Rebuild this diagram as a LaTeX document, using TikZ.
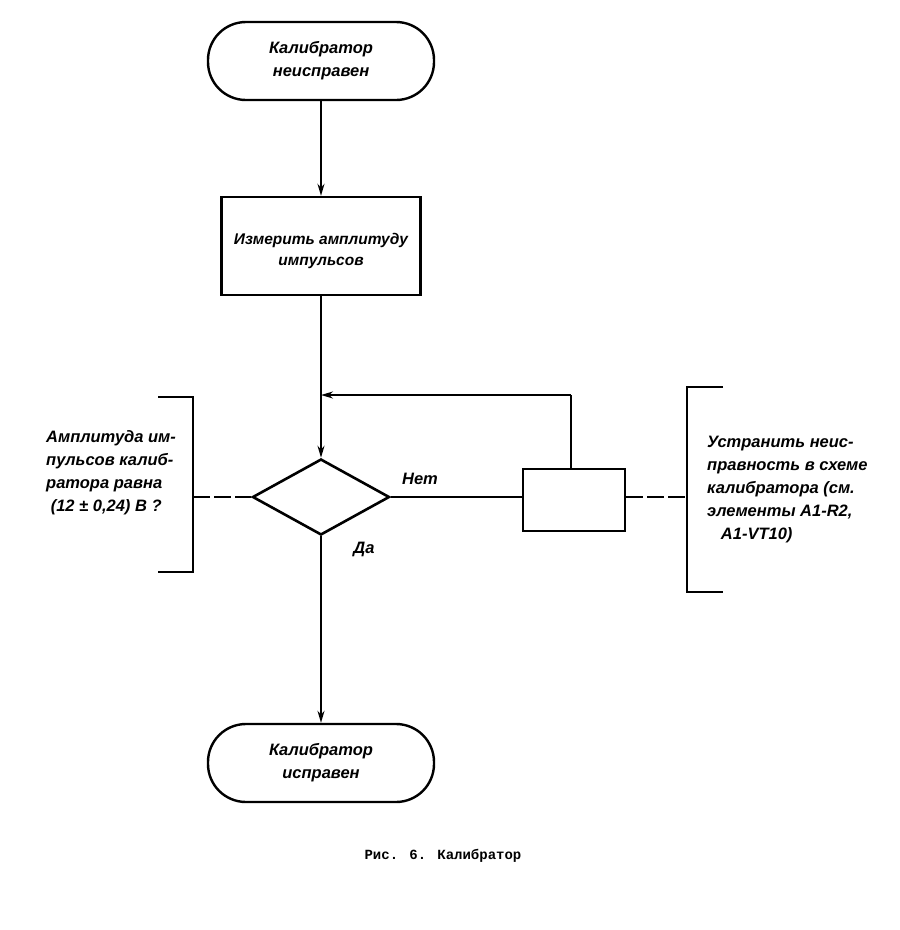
\documentclass[tikz,border=0pt]{standalone}
\usepackage{fontspec}
\setmainfont{Liberation Sans}
\newfontfamily\capfont{Liberation Mono}
\usetikzlibrary{arrows.meta,shapes.geometric}
\begin{document}
\begin{tikzpicture}[x=1pt,y=-1pt,
  hand/.style={font=\fontsize{16.5}{23}\selectfont\bfseries\itshape},
  term/.style={draw,line width=2.4pt,rounded corners=38pt,minimum width=226pt,minimum height=78pt,align=center,hand},
  proc/.style={draw,line width=2.4pt,minimum width=199pt,minimum height=98pt,align=center,hand,font=\fontsize{15.5}{21}\selectfont\bfseries\itshape},
  dec/.style={draw,line width=2.6pt,diamond,minimum width=137pt,minimum height=76pt,aspect=1.8,inner sep=0pt},
  small/.style={draw,line width=2.6pt,minimum width=102pt,minimum height=62pt},
  flow/.style={line width=1.8pt},
  arr/.style={flow,-{Stealth[length=12pt,width=7pt]}},
  note/.style={line width=1.8pt,dash pattern=on 17pt off 4pt},
  brk/.style={line width=2.4pt},
  lab/.style={hand,inner sep=0pt}
]
\useasboundingbox (0,0) rectangle (900,930);
\fill[white] (0,0) rectangle (900,930);

\node[term] (start) at (321,61) {Калибратор\\неисправен};
\node[proc] (meas) at (321,246) {};
\node[hand,font=\fontsize{15.5}{21}\selectfont\bfseries\itshape,align=center] (meastext) at (321,251) {Измерить амплитуду\\импульсов};
\node[dec] (d) at (321,497) {};
\node[small] (fix) at (574,500) {};
\node[term] (end) at (321,763) {Калибратор\\исправен};

\coordinate (join) at (321,395);
\coordinate (up) at (571,395);

\draw[arr] (start.south) -- (meas.north);
\draw[flow] (meas.south) -- (join);
\draw[arr] (join) -- (d.north);
\draw[flow] (fix.north -| up) -- (up);
\draw[arr] (up) -- (join);
\draw[flow] (d.east) -- (fix.west |- d.east);
\draw[arr] (d.south) -- (end.north);

\node[lab] (no) at (420,479) {Нет};
\node[lab] (yes) at (364,549) {Да};

% left comment
\coordinate (lb) at (193,497);
\draw[brk] (158,397) -- (193,397) -- (193,572) -- (158,572);
\draw[note] (lb) -- (d.west);
\node[hand,align=left,anchor=north west,inner sep=0pt] (ltext) at (46,430) {Амплитуда им-\\пульсов калиб-\\ратора равна\\\ (12 ± 0,24) В ?};

% right comment
\coordinate (rb) at (687,497);
\draw[brk] (723,387) -- (687,387) -- (687,592) -- (723,592);
\draw[note] (fix.east |- rb) -- (rb);
\node[hand,align=left,anchor=north west,inner sep=0pt] (rtext) at (707,436) {Устранить неис-\\правность в схеме\\калибратора (см.\\элементы А1-R2,\\\ \ \ А1-VT10)};

\node[font=\capfont\bfseries\fontsize{14}{16}\selectfont] (cap) at (443,856) {Рис. 6. Калибратор};
\end{tikzpicture}
\end{document}
